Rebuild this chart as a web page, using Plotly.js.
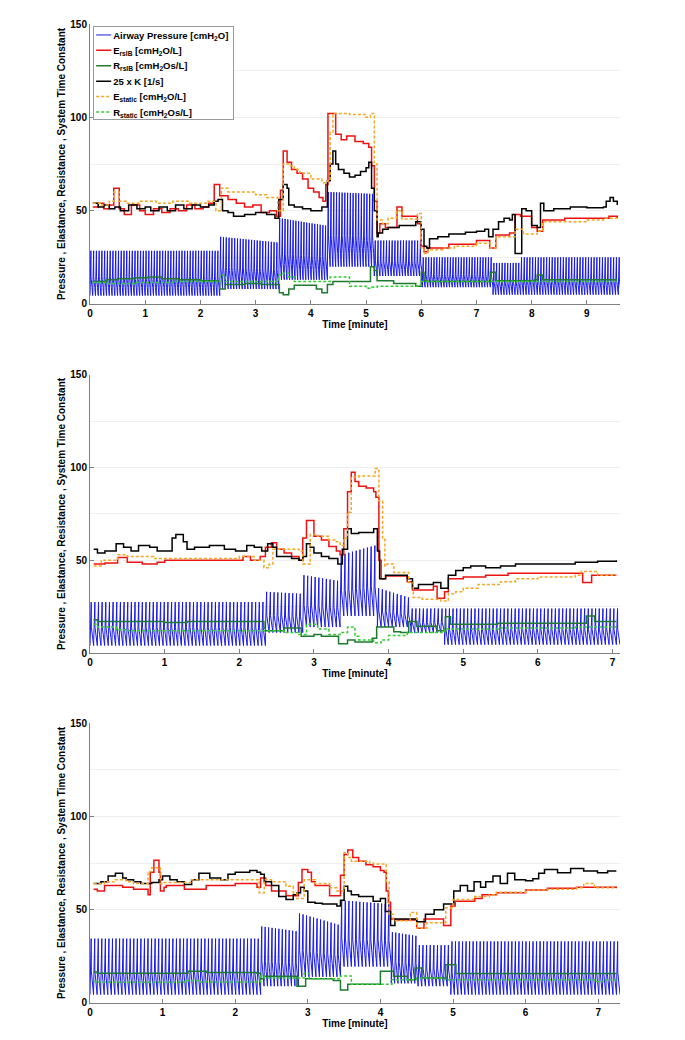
<!DOCTYPE html>
<html><head><meta charset="utf-8">
<script src="https://cdn.plot.ly/plotly-3.0.1.min.js"></script>
<style>html,body{margin:0;padding:0;background:#fff}</style>
</head><body><div id="chart" style="width:685px;height:1040px"></div>
<script>
// ---------- DATA ----------
const seriesNames = ['Airway Pressure [cmH<sub>2</sub>O]', 'E<sub>rsIB</sub> [cmH<sub>2</sub>O/L]', 'R<sub>rsIB</sub> [cmH<sub>2</sub>Os/L]', '25 x K [1/s]', 'E<sub>static</sub> [cmH<sub>2</sub>O/L]', 'R<sub>static</sub> [cmH<sub>2</sub>Os/L]'];
const xTitle = 'Time [minute]';
const yTitle = 'Pressure , Elastance, Resistance , System Time Constant';
const xMax = [9.6, 7.1, 7.3];
const breathRate = [20, 20.5, 20.5]; // breaths per minute

// airway pressure segments: [start, end, peak at start, peak at end, PEEP]
const p1Airway = [[0,2.35,28.5,28.5,4.5],[2.35,3.42,36,33,8],[3.42,4.3,46,42,13],[4.3,5.15,60,59,20],[5.15,6.02,34,34,15],[6.02,7.3,25,25,9],[7.3,7.8,22,22,5],[7.8,9.62,25,25,5]];
const p2Airway = [[0,2.35,27.5,27.5,4],[2.35,2.85,33,32,11],[2.85,3.35,42,39,14],[3.35,3.85,53,58,20],[3.85,4.3,35,30,14],[4.3,4.75,24,24,11],[4.75,7.1,24,24,4.5]];
const p3Airway = [[0,2.35,34.5,34.5,4.5],[2.35,2.87,41,38.5,9],[2.87,3.45,48,42,14],[3.45,4.15,55,53,19.5],[4.15,4.52,38,36,10.5],[4.52,4.97,31,31,9],[4.97,7.3,33,33,4.5]];
// normalised single-breath shape (phase of period, fraction of amplitude)
const breathPhase = [0, 0.06, 0.33, 0.37, 0.45, 0.6, 0.75, 0.88, 1.0];
const breathLevel = [0, 0.25, 1.0, 0.42, 0.36, 0.3, 0.18, 0.06, 0];

// step series: [time, value]
const p1Ers = [[0.05,52],[0.15,54],[0.25,51],[0.35,53],[0.43,62],[0.53,51],[0.62,48],[0.75,53],[0.9,50],[1.0,48],[1.15,51],[1.3,49],[1.45,51],[1.6,50],[1.75,53],[1.9,51],[2.05,52],[2.15,54],[2.25,64],[2.35,58],[2.5,56],[2.65,54],[2.8,52],[2.95,53],[3.1,49],[3.25,50],[3.38,47],[3.45,61],[3.5,82],[3.57,76],[3.65,72],[3.75,70],[3.85,67],[3.95,62],[4.05,60],[4.15,57],[4.22,55],[4.27,64],[4.31,102],[4.45,91],[4.55,88],[4.65,90],[4.8,87],[4.95,86],[5.05,84],[5.1,74],[5.15,55],[5.2,38],[5.25,43],[5.35,41],[5.56,52],[5.65,47],[5.93,43],[6.0,31],[6.05,28],[6.12,30],[6.5,32],[7.0,34],[7.24,30],[7.35,37],[7.6,38],[7.7,48],[7.8,47],[8.0,41],[8.1,39],[8.2,45],[8.6,46],[9.0,46],[9.4,47],[9.55,46]];
const p1K = [[0.05,54],[0.15,52],[0.25,53],[0.35,51],[0.45,52],[0.55,50],[0.7,53],[0.85,51],[1.0,52],[1.1,50],[1.25,52],[1.4,50],[1.55,53],[1.7,51],[1.85,53],[2.0,52],[2.15,53],[2.25,55],[2.32,56],[2.4,50],[2.5,49],[2.6,47],[2.8,48],[3.0,49],[3.2,48],[3.35,46],[3.42,56],[3.5,64],[3.57,62],[3.6,53],[3.7,52],[3.85,51],[4.0,50],[4.2,52],[4.3,66],[4.35,75],[4.4,82],[4.45,75],[4.5,72],[4.6,70],[4.7,68],[4.8,69],[4.9,71],[5.0,73],[5.05,76],[5.1,62],[5.15,50],[5.2,36],[5.22,38],[5.3,40],[5.4,41],[5.6,42],[5.9,44],[6.0,40],[6.05,31],[6.1,30],[6.15,35],[6.3,36],[6.5,37.5],[6.8,38.5],[7.0,39],[7.15,40],[7.22,36],[7.3,40],[7.4,44],[7.5,46],[7.6,45],[7.65,48],[7.7,27],[7.82,51],[7.9,50],[8.0,42],[8.1,41],[8.16,54],[8.22,50],[8.4,51],[8.7,52],[9.0,51.5],[9.3,52],[9.35,55],[9.42,57],[9.48,55],[9.55,53]];
const p1Est = [[0.05,54],[0.2,53],[0.35,55],[0.43,60],[0.53,55],[0.65,54],[0.9,55],[1.2,54],[1.5,55],[1.8,54],[2.1,55],[2.28,50],[2.38,62],[2.5,60],[2.8,60],[3.0,58.5],[3.2,57],[3.4,50],[3.5,75],[3.6,74],[3.7,72],[3.8,70],[4.0,67],[4.2,65],[4.3,66],[4.35,92],[4.4,102],[4.7,101.5],[5.0,100],[5.08,102],[5.15,75],[5.2,45],[5.3,43],[5.4,46],[5.55,50],[5.65,45.5],[5.93,48.5],[6.0,30],[6.05,27],[6.12,29],[6.4,30],[6.6,31],[7.0,32.5],[7.25,30],[7.35,36],[7.7,40],[7.85,37.5],[8.1,39],[8.2,44],[8.6,44],[9.0,45],[9.3,46],[9.55,46]];
const p1Rrs = [[0.05,12],[0.3,13],[0.5,13.5],[0.8,14],[1.05,14.5],[1.3,13.5],[1.6,13],[2.0,12.5],[2.3,12],[2.35,8],[2.45,10.5],[2.8,11],[3.1,10.5],[3.43,6],[3.5,5],[3.6,8],[3.7,10],[4.1,8],[4.2,6],[4.3,10.5],[4.4,12],[5.0,12],[5.08,20],[5.15,18],[5.2,12.5],[5.5,11],[5.9,9.5],[6.0,17],[6.05,12.5],[6.1,12],[7.22,12],[7.25,17],[7.35,12.5],[8.05,13],[8.1,15.5],[8.2,13],[9.55,13]];
const p1Rst = [[0.05,11.5],[0.3,11],[0.8,11.5],[1.5,12],[2.3,11.5],[2.35,15.5],[2.45,12],[3.42,15.5],[3.5,16.5],[3.6,14.5],[3.7,12],[4.35,14.5],[4.7,9.5],[5.0,8.5],[5.1,9],[5.2,9.5],[5.95,10],[6.0,12],[9.55,12]];

const p2Ers = [[0.05,48],[0.2,48.5],[0.37,51.5],[0.5,49],[0.7,48],[0.9,49],[1.0,50],[1.5,50],[2.05,52],[2.15,50],[2.28,52],[2.35,57],[2.43,59.5],[2.5,56],[2.6,54],[2.7,52],[2.8,50],[2.85,62],[2.9,71.5],[3.0,63],[3.1,61],[3.2,57.5],[3.3,55],[3.35,53],[3.4,67],[3.45,87],[3.5,97.5],[3.55,92.5],[3.6,90],[3.7,89],[3.8,87],[3.83,84],[3.87,50],[3.9,40],[3.96,41.5],[4.25,38.5],[4.32,34],[4.6,36],[4.65,29.5],[4.75,33],[4.8,40],[5.0,41],[5.3,42],[5.6,43],[6.6,38],[6.72,42],[7.05,42]];
const p2K = [[0.05,56],[0.1,54],[0.2,55],[0.35,59],[0.45,57],[0.55,55],[0.65,58],[0.8,57],[0.9,55],[1.1,62],[1.15,64],[1.25,60],[1.3,56],[1.4,57],[1.6,58],[1.8,56],[1.95,55],[2.1,58],[2.2,57],[2.3,55],[2.38,59],[2.45,57],[2.5,52],[2.7,51],[2.8,50],[2.85,52],[2.9,59],[2.95,57],[3.0,54],[3.1,52],[3.2,51],[3.32,48],[3.38,56],[3.45,67],[3.5,64.5],[3.6,65],[3.8,67],[3.85,55],[3.88,40],[3.96,42],[4.25,40],[4.32,35],[4.4,37],[4.6,38],[4.7,35],[4.8,42],[4.9,44.5],[5.0,46],[5.1,47],[5.3,46],[5.5,47],[5.7,48],[6.0,48],[6.5,49],[6.8,49.5],[7.05,50]];
const p2Est = [[0.05,47],[0.15,50],[0.37,53],[0.5,52],[0.85,51],[1.5,51],[2.0,52],[2.2,50],[2.33,46],[2.4,48],[2.45,56],[2.8,55],[2.85,48],[2.95,64],[3.05,63],[3.2,61],[3.3,60],[3.35,58],[3.4,62],[3.45,76],[3.5,95],[3.6,95.5],[3.75,95.5],[3.82,99.5],[3.87,82],[3.92,62],[3.95,47],[3.98,48],[4.07,43.5],[4.27,38],[4.33,30],[4.45,29],[4.7,28],[4.8,32],[4.9,33],[5.0,35],[5.2,37],[5.5,38.5],[5.7,40],[6.0,41],[6.5,42],[6.58,44],[6.8,42],[7.05,42]];
const p2Rrs = [[0.05,18],[0.1,17],[1.0,16.5],[1.3,17],[2.3,17],[2.33,13.5],[2.35,12],[2.6,13.5],[2.83,9],[3.0,10],[3.1,9],[3.33,5],[3.45,7],[3.55,6],[3.78,8],[3.84,14],[4.07,11.5],[4.16,11],[4.27,17],[4.38,14.5],[4.65,12],[4.76,19.5],[4.83,15.5],[5.46,16],[6.65,20],[6.76,17],[7.05,17]];
const p2Rst = [[0.05,15.5],[0.1,14],[0.35,12.5],[0.5,12],[2.6,11],[2.8,10],[2.9,15.5],[3.05,13],[3.2,10],[3.35,11],[3.45,14],[3.55,9],[3.6,7],[3.8,5.5],[3.9,7],[4.0,9.5],[4.25,11],[4.75,13],[5.5,13.5],[6.5,14],[7.05,14]];

const p3Ers = [[0.05,61],[0.1,60],[0.2,63],[0.45,62],[0.6,61],[0.8,58],[0.83,70],[0.88,76.5],[0.95,70],[0.97,60],[1.02,62],[1.05,63],[1.3,61],[1.6,63],[2.0,64],[2.3,62],[2.35,67],[2.42,63],[2.5,60],[2.7,57.5],[2.87,64.5],[2.92,71.5],[3.0,70],[3.05,65],[3.1,63],[3.3,57.5],[3.45,68.5],[3.5,79.5],[3.55,82],[3.62,78],[3.7,76],[3.8,74],[3.9,73],[4.0,71],[4.05,70],[4.08,60],[4.11,54],[4.14,45],[4.2,44.5],[4.5,40],[4.6,45],[4.87,41.5],[4.97,52],[5.03,54.5],[5.3,56],[5.4,58],[5.6,59],[5.8,59],[6.0,60.5],[6.3,61.5],[6.7,62],[7.0,62],[7.25,61.5]];
const p3K = [[0.05,64],[0.15,65],[0.25,68],[0.35,69.5],[0.45,67],[0.5,66],[0.6,65],[0.7,64],[0.85,64.5],[0.95,66],[1.0,68],[1.1,66],[1.2,65],[1.3,63.5],[1.4,66],[1.5,69.5],[1.65,67],[1.8,66],[1.9,69],[2.0,70],[2.2,71],[2.3,70],[2.35,69],[2.4,65],[2.5,63],[2.6,57],[2.7,55.5],[2.8,58],[2.85,59],[2.9,62],[2.95,60],[3.0,54],[3.1,53.5],[3.2,53],[3.4,52],[3.45,55],[3.5,62.5],[3.55,60],[3.6,58],[3.7,57],[3.9,54.5],[4.0,56],[4.07,49],[4.14,41.5],[4.2,45],[4.5,43.5],[4.62,47.5],[4.74,50],[4.87,53],[5.01,60],[5.1,63],[5.2,60],[5.29,65],[5.38,62],[5.45,65],[5.55,68],[5.65,64],[5.75,69.5],[5.85,66],[6.0,65.5],[6.1,66.5],[6.18,69.5],[6.26,71.5],[6.44,69.8],[6.62,72],[6.8,70.7],[6.99,69.8],[7.13,70.7],[7.25,70.7]];
const p3Est = [[0.05,64],[0.2,65],[0.35,66],[0.5,65],[0.6,64],[0.8,70.5],[0.85,72.5],[0.97,64],[1.0,64.5],[1.4,66],[2.3,66],[2.33,59],[2.4,66],[2.5,65],[2.7,62.5],[2.8,59],[2.85,56],[2.95,66],[3.1,64],[3.3,61.7],[3.4,60],[3.5,80.5],[3.55,78],[3.6,76],[3.85,75],[3.9,74.5],[4.08,65],[4.12,47.5],[4.18,44],[4.41,48.5],[4.5,40],[4.64,43],[4.9,51],[5.0,55.5],[5.3,57],[5.5,58],[5.6,59.4],[6.0,60.5],[6.3,61],[6.7,61.7],[6.8,64],[6.95,61.7],[7.25,61.7]];
const p3Rrs = [[0.05,16.6],[0.1,16],[1.35,17],[1.6,16.3],[2.3,16],[2.35,13],[2.4,14.3],[2.85,9],[2.97,13],[3.35,12],[3.45,7],[3.55,10],[4.0,17],[4.18,14.3],[4.37,12.5],[4.48,18.8],[4.57,13.4],[4.9,20.5],[5.04,15.8],[7.25,15.8]];
const p3Rst = [[0.05,11.6],[0.1,11.1],[1.3,12],[1.5,11.3],[2.35,14.3],[2.4,13.4],[2.95,16],[3.02,13],[3.45,14.5],[3.6,10],[4.16,12.5],[4.5,13.4],[4.87,12.5],[6.95,11.5],[7.1,12.5],[7.25,12.5]];

// ---------- BUILD ----------
const FONT = 'Liberation Sans, Arial, Helvetica, sans-serif';
const colors = ['#1a1ae6', '#ee1111', '#1f7a2f', '#000000', '#f5a623', '#33cc33'];
const dashes = ['solid', 'solid', 'solid', 'solid', '3px,2px', '3px,2px'];
const widths = [1, 1.5, 1.5, 1.5, 1.5, 1.5];

function airwayXY(segs, rate) {
  const xs = [], ys = [];
  segs.forEach(s => {
    const [t0, t1, pk0, pk1, peep] = s;
    const n = Math.max(1, Math.round((t1 - t0) * rate));
    const T = (t1 - t0) / n;
    for (let i = 0; i < n; i++) {
      const pk = pk0 + (pk1 - pk0) * (n > 1 ? i / (n - 1) : 0);
      for (let j = 0; j < breathPhase.length; j++) {
        xs.push(t0 + i * T + breathPhase[j] * T);
        ys.push(peep + (pk - peep) * breathLevel[j]);
      }
    }
  });
  return {xs, ys};
}

const panels = [
  {air: p1Airway, steps: [p1Ers, p1Rrs, p1K, p1Est, p1Rst]},
  {air: p2Airway, steps: [p2Ers, p2Rrs, p2K, p2Est, p2Rst]},
  {air: p3Airway, steps: [p3Ers, p3Rrs, p3K, p3Est, p3Rst]}
];

const data = [];
panels.forEach((p, k) => {
  const xa = k === 0 ? 'x' : 'x' + (k + 1);
  const ya = k === 0 ? 'y' : 'y' + (k + 1);
  const a = airwayXY(p.air, breathRate[k]);
  data.push({type: 'scatter', mode: 'lines', x: a.xs, y: a.ys, xaxis: xa, yaxis: ya,
    name: seriesNames[0], showlegend: k === 0,
    line: {color: colors[0], width: widths[0]}, hoverinfo: 'skip'});
  p.steps.forEach((s, i) => {
    data.push({type: 'scatter', mode: 'lines', x: s.map(d => d[0]), y: s.map(d => d[1]),
      xaxis: xa, yaxis: ya, name: seriesNames[i + 1], showlegend: k === 0,
      line: {shape: 'hv', color: colors[i + 1], width: widths[i + 1], dash: dashes[i + 1]}});
  });
});

const tickFont = {family: FONT, size: 10, color: '#000', weight: 'bold'};
function xax(range, anchor) {
  return {range: range, domain: [0, 1], anchor: anchor, showline: true, linecolor: '#808080', linewidth: 1,
    ticks: 'inside', ticklen: 4, tickcolor: '#808080', tick0: 0, dtick: 1, showgrid: false, zeroline: false,
    tickfont: tickFont, automargin: false,
    title: {text: xTitle, font: {family: FONT, size: 10, color: '#000', weight: 'bold'}, standoff: 1}};
}
function yax(domain, anchor) {
  return {range: [0, 150], domain: domain, anchor: anchor, showline: true, linecolor: '#808080', linewidth: 1,
    ticks: 'inside', ticklen: 4, tickcolor: '#808080', tick0: 0, dtick: 50, showgrid: true, gridcolor: '#efefef',
    minor: {dtick: 25, showgrid: true, gridcolor: '#efefef'}, zeroline: false, tickfont: tickFont, automargin: false,
    title: {text: yTitle, font: {family: FONT, size: 10, color: '#000', weight: 'bold'}, standoff: 2}};
}

const layout = {
  width: 685, height: 1040,
  margin: {l: 90, r: 65, t: 24, b: 37},
  paper_bgcolor: '#fff', plot_bgcolor: '#fff',
  showlegend: true,
  legend: {x: 0.006, y: 0.998, xanchor: 'left', yanchor: 'top', bgcolor: '#fff', bordercolor: '#9a9a9a', borderwidth: 1,
    font: {family: FONT, size: 9.5, color: '#000', weight: 'bold'}, tracegroupgap: 0, itemwidth: 30, traceorder: 'normal'},
  xaxis: xax([0, xMax[0]], 'y'), yaxis: yax([0.714, 1], 'x'),
  xaxis2: xax([0, xMax[1]], 'y2'), yaxis2: yax([0.3575, 0.6415], 'x2'),
  xaxis3: xax([0, xMax[2]], 'y3'), yaxis3: yax([0, 0.286], 'x3')
};

Plotly.newPlot('chart', data, layout, {displayModeBar: false, staticPlot: true}).then(gd => {
  // compact MATLAB-style legend: short line samples, tighter rows
  const lg = gd.querySelector('.legend');
  if (!lg) return;
  const items = lg.querySelectorAll('.traces');
  let maxW = 0;
  items.forEach((it, i) => {
    it.setAttribute('transform', 'translate(0,' + (9 + i * 15.4) + ')');
    it.querySelectorAll('.js-line').forEach(p => p.setAttribute('d', 'M3,0h15'));
    const tx = it.querySelector('.legendtext');
    if (tx) { tx.setAttribute('x', 20); maxW = Math.max(maxW, tx.getBBox().width); }
    const tg = it.querySelector('.legendtoggle');
    if (tg) tg.setAttribute('width', 130);
  });
  const bg = lg.querySelector('.bg');
  if (bg) { bg.setAttribute('width', Math.round(20 + maxW + 5)); bg.setAttribute('height', 93); }
});
</script></body></html>
